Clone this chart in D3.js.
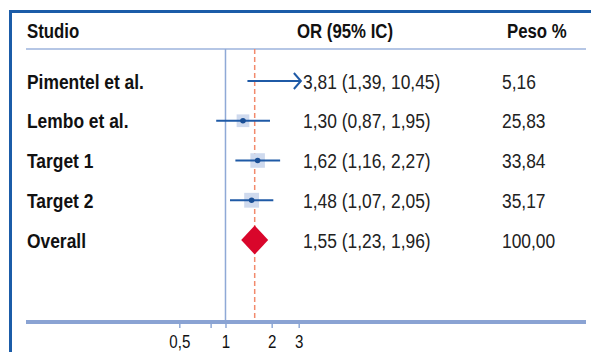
<!DOCTYPE html>
<html>
  <head>
    <meta charset="utf-8">
    <script src="https://d3js.org/d3.v7.min.js"></script>
    <title>Forest plot</title>
    <style>
      body { margin: 0; background: #fff; }
      text { font-family: "Liberation Sans", Arial, sans-serif; }
    </style>
  </head>
  <body>
    <div id="plot"></div>
    <script>

    // data
    const studies = ["Pimentel et al.", "Lembo et al.", "Target 1", "Target 2", "Overall"];
    const orValues = [3.81, 1.30, 1.62, 1.48, 1.55];
    const ciLow = [1.39, 0.87, 1.16, 1.07, 1.23];
    const ciHigh = [10.45, 1.95, 2.27, 2.05, 1.96];
    const weights = [5.16, 25.83, 33.84, 35.17, 100.00];
    const headers = ["Studio", "OR (95% IC)", "Peso %"];
    const tickValues = [0.5, 0.8, 1, 2, 3];
    const tickLabels = ["0,5", "", "1", "2", "3"];

    const width = 591, height = 352;
    const fmt = d3.format(".2f");
    const it = v => fmt(v).replace(".", ",");

    // no narrow font installed, so squeeze the text horizontally
    const narrow = 0.87;
    const place = (xf, yf, sx) => (d, i) =>
      "translate(" + xf(d, i) + "," + yf(d, i) + ") scale(" + sx + ",1)";

    const svg = d3.select("#plot")
      .append("svg")
        .attr("width", width)
        .attr("height", height);

    // frame (top and left edges only, the rest is cut off)
    svg.append("path")
      .attr("d", "M10.5," + height + " V11.5 H" + width)
      .attr("fill", "none")
      .attr("stroke", "#1b5ca8")
      .attr("stroke-width", 3);

    // scales
    const x = d3.scaleLog()
      .domain([0.5, 3])
      .range([179.3, 298.7]);
    const xMax = 3.1;   // CI is cut here and gets an arrow

    const y = d3.scalePoint()
      .domain(studies)
      .range([81, 240]);

    const topY = 49, axisY = 322;

    // headers
    const headX = [27, 297, 507];
    svg.selectAll(".head")
      .data(headers)
      .enter()
      .append("text")
        .attr("transform", place((d, i) => headX[i], () => 38, 0.8))
        .text(d => d)
        .style("font-size", "21px")
        .style("font-weight", "bold")
        .attr("fill", "#111");

    svg.append("line")
      .attr("x1", 26).attr("x2", 586)
      .attr("y1", topY).attr("y2", topY)
      .attr("stroke", "#9db3dd")
      .attr("stroke-width", 1.5);

    // line of no effect
    svg.append("line")
      .attr("x1", x(1)).attr("x2", x(1))
      .attr("y1", topY).attr("y2", axisY)
      .attr("stroke", "#8fa9d6")
      .attr("stroke-width", 1.5);

    // overall effect (dashed)
    svg.append("line")
      .attr("x1", x(orValues[4])).attr("x2", x(orValues[4]))
      .attr("y1", topY).attr("y2", axisY)
      .attr("stroke", "#f28a6c")
      .attr("stroke-width", 1.5)
      .style("stroke-dasharray", "5 3");

    // axis
    const axis = svg.append("g")
      .attr("transform", "translate(0," + axisY + ")")
      .call(d3.axisBottom(x)
        .tickValues(tickValues)
        .tickFormat((d, i) => tickLabels[i])
        .tickSize(6)
        .tickPadding(7));
    axis.select(".domain").remove();
    axis.selectAll(".tick line")
      .attr("stroke", "#8fa9d6")
      .attr("stroke-width", 1.5);
    axis.selectAll(".tick text")
      .attr("transform", "scale(0.84,1)")
      .style("font-size", "18px")
      .style("font-family", "'Liberation Sans', Arial, sans-serif")
      .attr("fill", "#111");
    svg.append("line")
      .attr("x1", 26).attr("x2", 586)
      .attr("y1", axisY).attr("y2", axisY)
      .attr("stroke", "#8aa3d3")
      .attr("stroke-width", 4);

    const rows = studies.map((s, i) => ({
      name: s, or: orValues[i], lo: ciLow[i], hi: ciHigh[i], w: weights[i]
    }));
    const single = rows.slice(0, 4);
    const overall = rows[4];

    // clip for the study marks
    svg.append("clipPath").attr("id", "clip")
      .append("rect")
        .attr("x", 0).attr("y", 0)
        .attr("width", x(xMax)).attr("height", height);

    const marks = svg.append("g").attr("clip-path", "url(#clip)");

    // weight boxes
    marks.selectAll(".box")
      .data(single)
      .enter()
      .append("rect")
        .attr("x", d => x(d.or) - 1.25 * Math.sqrt(d.w))
        .attr("y", d => y(d.name) - 1.25 * Math.sqrt(d.w))
        .attr("width", d => 2.5 * Math.sqrt(d.w))
        .attr("height", d => 2.5 * Math.sqrt(d.w))
        .attr("fill", "#cfdaee");

    // CI lines
    marks.selectAll(".ci")
      .data(single)
      .enter()
      .append("line")
        .attr("x1", d => x(d.lo))
        .attr("x2", d => x(Math.min(d.hi, xMax)))
        .attr("y1", d => y(d.name))
        .attr("y2", d => y(d.name))
        .attr("stroke", "#1f5aa6")
        .attr("stroke-width", 2);

    // point estimates
    marks.selectAll(".dot")
      .data(single)
      .enter()
      .append("circle")
        .attr("cx", d => x(d.or))
        .attr("cy", d => y(d.name))
        .attr("r", 2.8)
        .attr("fill", "#1a4f96");

    // arrows where the CI goes out of range
    svg.selectAll(".arrow")
      .data(single.filter(d => d.hi > xMax))
      .enter()
      .append("path")
        .attr("d", d => {
          const tx = x(xMax), ty = y(d.name);
          return "M" + (tx - 7) + "," + (ty - 8) + " L" + tx + "," + ty + " L" + (tx - 7) + "," + (ty + 8);
        })
        .attr("fill", "none")
        .attr("stroke", "#1f5aa6")
        .attr("stroke-width", 2);

    // overall diamond
    const dw = 13.5, dh = 14.5;
    svg.append("path")
      .attr("d", "M" + (x(overall.or) - dw) + "," + y(overall.name)
        + " L" + x(overall.or) + "," + (y(overall.name) - dh)
        + " L" + (x(overall.or) + dw) + "," + y(overall.name)
        + " L" + x(overall.or) + "," + (y(overall.name) + dh) + " Z")
      .attr("fill", "#d9062b");

    // study names
    svg.selectAll(".name")
      .data(rows)
      .enter()
      .append("text")
        .attr("transform", place(() => 27, d => y(d.name) + 7.5, narrow))
        .text(d => d.name)
        .style("font-size", "20px")
        .style("font-weight", "bold")
        .attr("fill", "#111");

    // OR (CI) text
    svg.selectAll(".ortext")
      .data(rows)
      .enter()
      .append("text")
        .attr("transform", place(() => 303, d => y(d.name) + 7.5, narrow))
        .text(d => it(d.or) + " (" + it(d.lo) + ", " + it(d.hi) + ")")
        .style("font-size", "20px")
        .attr("fill", "#222");

    // weights
    svg.selectAll(".peso")
      .data(rows)
      .enter()
      .append("text")
        .attr("transform", place(() => 502, d => y(d.name) + 7.5, narrow))
        .text(d => it(d.w))
        .style("font-size", "20px")
        .attr("fill", "#222");

    </script>
  </body>
</html>
